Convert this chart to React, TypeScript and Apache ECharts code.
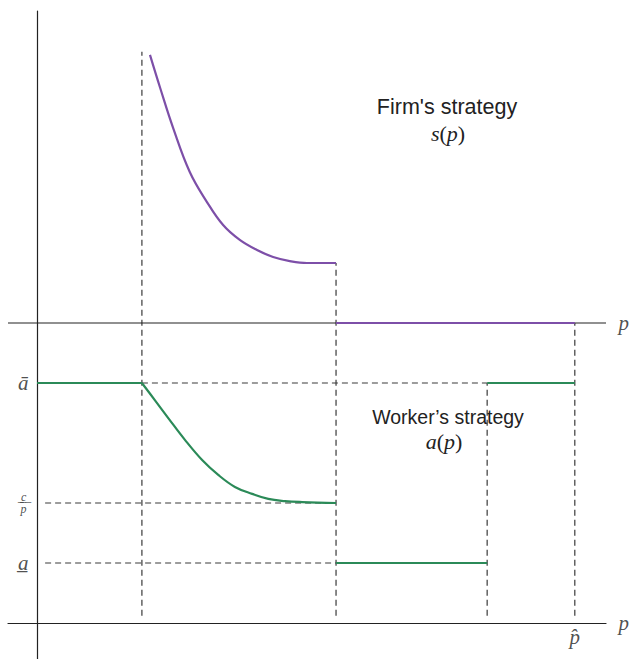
import React, { useEffect, useRef } from "react";
import * as echarts from "echarts";

// Axis extents (price axis scaled so that p-hat = 10)
const xMin = -0.54;
const xMax = 10.58;
const yMin = -0.15;
const yMax = 2.55;

// Price thresholds
const p1 = 1.95;
const p2 = 5.56;
const p3 = 8.37;
const pHat = 10;

// Worker effort levels (lower panel, baseline 0)
const aBar = 1;
const cOverP = 0.5;
const aLow = 0.25;

// Upper panel (firm) baseline level
const firmBase = 1.25;

// Firm's strategy s(p) on (p1, p2], relative to its own axis
const firmCurveP = [2.1, 2.29, 2.53, 2.84, 3.16, 3.46, 3.77, 4.09, 4.39, 4.7, 5.02, 5.56];
const firmCurveS = [1.117, 0.979, 0.813, 0.629, 0.504, 0.408, 0.346, 0.304, 0.275, 0.258, 0.25, 0.25];

// Worker's strategy a(p) on [p1, p2]
const workerCurveP = [1.95, 2.19, 2.44, 2.75, 3.07, 3.37, 3.68, 4.0, 4.3, 4.61, 4.93, 5.56];
const workerCurveA = [1.0, 0.929, 0.854, 0.763, 0.679, 0.617, 0.567, 0.538, 0.517, 0.508, 0.504, 0.5];

// Dashed guides: verticals [p, fromY, toY], horizontals [y, fromP, toP]
const dashVerticals: [number, number, number][] = [
  [p1, 0.03, firmBase + 1.13],
  [p2, 0.03, firmBase + 0.25],
  [p3, 0.03, aBar],
  [pHat, 0.03, firmBase],
];
const dashHorizontals: [number, number, number][] = [
  [aBar, p1, p3],
  [cOverP, 0.15, p2],
  [aLow, 0.15, p2],
];

// Tick-like labels
const yTickLabels = ["\u0101", "c/p", "a\u0332"];
const yTickValues = [aBar, cOverP, aLow];
const pHatLabel = "p\u0302";
const axisName = "p";

const PURPLE = "#7d4fa8";
const GREEN = "#2b8a58";
const INK = "#222";
const DASH = "#3a3a3a";
const SERIF = "'Liberation Serif', 'DejaVu Serif', serif";
const SANS = "'Liberation Sans', Arial, sans-serif";

export default function App() {
  const ref = useRef<HTMLDivElement>(null);

  useEffect(() => {
    if (!ref.current) return;
    const chart = echarts.init(ref.current, null, { renderer: "svg" });

    const solid = (data: number[][], color: string, width: number, z: number, smooth: any = false) => ({
      type: "line",
      data,
      symbol: "none",
      showSymbol: false,
      smooth,
      silent: true,
      z,
      lineStyle: { color, width },
    });

    const dashed = (data: number[][]) => ({
      type: "line",
      data,
      symbol: "none",
      showSymbol: false,
      silent: true,
      z: 1,
      lineStyle: { color: DASH, width: 1.2, type: [6, 4] },
    });

    const italic = { fontFamily: SERIF, fontStyle: "italic", fontSize: 21, color: INK };
    const fracRich = {
      it: { fontFamily: SERIF, fontStyle: "italic", fontSize: 21, color: INK },
      s: { fontFamily: SERIF, fontStyle: "italic", fontSize: 12, lineHeight: 12, width: 10, align: "center", color: INK },
    };

    const series: any[] = [];
    // upper p axis
    series.push(solid([[xMin, firmBase], [xMax, firmBase]], INK, 1.2, 2));
    // dashed guides
    dashVerticals.forEach(([x, y0, y1]) => series.push(dashed([[x, y0], [x, y1]])));
    dashHorizontals.forEach(([y, x0, x1]) => series.push(dashed([[x0, y], [x1, y]])));
    // firm's strategy
    series.push(solid(firmCurveP.map((p, i) => [p, firmBase + firmCurveS[i]]), PURPLE, 2.2, 5, 0.4));
    series.push(solid([[p2, firmBase], [pHat, firmBase]], PURPLE, 2.2, 5));
    // worker's strategy
    series.push(solid([[0, aBar], [p1, aBar]], GREEN, 2.2, 5));
    series.push(solid(workerCurveP.map((p, i) => [p, workerCurveA[i]]), GREEN, 2.2, 5, 0.4));
    series.push(solid([[p2, aLow], [p3, aLow]], GREEN, 2.2, 5));
    series.push(solid([[p3, aBar], [pHat, aBar]], GREEN, 2.2, 5));

    // text annotations anchored at data points
    const annot: any[] = [];
    yTickValues.forEach((v, i) => {
      const t = yTickLabels[i];
      annot.push({
        value: [0, v],
        label: {
          show: true,
          position: "left",
          distance: 8,
          formatter: t === "c/p" ? "{s|\u2009\u0332c\u0332\u2009\u0332}\n{s|p}" : "{it|" + t + "}",
          rich: fracRich,
        },
      });
    });
    annot.push({
      value: [xMax, firmBase],
      label: { show: true, position: "right", distance: 12, formatter: axisName, ...italic },
    });
    annot.push({
      value: [xMax, 0],
      label: { show: true, position: "right", distance: 12, formatter: axisName, ...italic },
    });
    annot.push({
      value: [pHat, 0],
      label: { show: true, position: "bottom", distance: 3, formatter: pHatLabel, ...italic },
    });
    series.push({
      type: "scatter",
      data: annot,
      symbolSize: 1,
      clip: false,
      silent: true,
      z: 10,
      itemStyle: { color: "rgba(0,0,0,0)" },
      labelLayout: { hideOverlap: false },
    });

    chart.setOption({
      animation: false,
      grid: { left: 8, right: 24, top: 11, bottom: 0, outerBoundsMode: "none", containLabel: false },
      xAxis: {
        type: "value",
        min: xMin,
        max: xMax,
        splitLine: { show: false },
        axisTick: { show: false },
        axisLabel: { show: false },
        axisLine: { show: true, onZero: true, lineStyle: { color: INK, width: 1.2 } },
      },
      yAxis: {
        type: "value",
        min: yMin,
        max: yMax,
        splitLine: { show: false },
        axisTick: { show: false },
        axisLabel: { show: false },
        axisLine: { show: true, onZero: true, lineStyle: { color: INK, width: 1.2 } },
      },
      graphic: [
        {
          type: "text",
          x: 447,
          y: 107,
          style: { text: "Firm's strategy", fontFamily: SANS, fontSize: 21.5, fill: INK, align: "center", verticalAlign: "middle" },
        },
        {
          type: "text",
          x: 448,
          y: 133,
          style: {
            text: "{i|s}{r|(}{i|p}{r|)}",
            align: "center",
            verticalAlign: "middle",
            rich: {
              i: { fontFamily: SERIF, fontStyle: "italic", fontSize: 22, fill: INK },
              r: { fontFamily: SERIF, fontSize: 22, fill: INK },
            },
          },
        },
        {
          type: "text",
          x: 448,
          y: 417,
          style: { text: "Worker\u2019s strategy", fontFamily: SANS, fontSize: 19.5, fill: INK, align: "center", verticalAlign: "middle" },
        },
        {
          type: "text",
          x: 444,
          y: 441,
          style: {
            text: "{i|a}{r|(}{i|p}{r|)}",
            align: "center",
            verticalAlign: "middle",
            rich: {
              i: { fontFamily: SERIF, fontStyle: "italic", fontSize: 22, fill: INK },
              r: { fontFamily: SERIF, fontSize: 22, fill: INK },
            },
          },
        },
      ],
      series,
    });

    return () => chart.dispose();
  }, []);

  return (
    <div
      ref={ref}
      style={{ position: "absolute", left: 0, top: 0, width: 630, height: 659 }}
    />
  );
}
